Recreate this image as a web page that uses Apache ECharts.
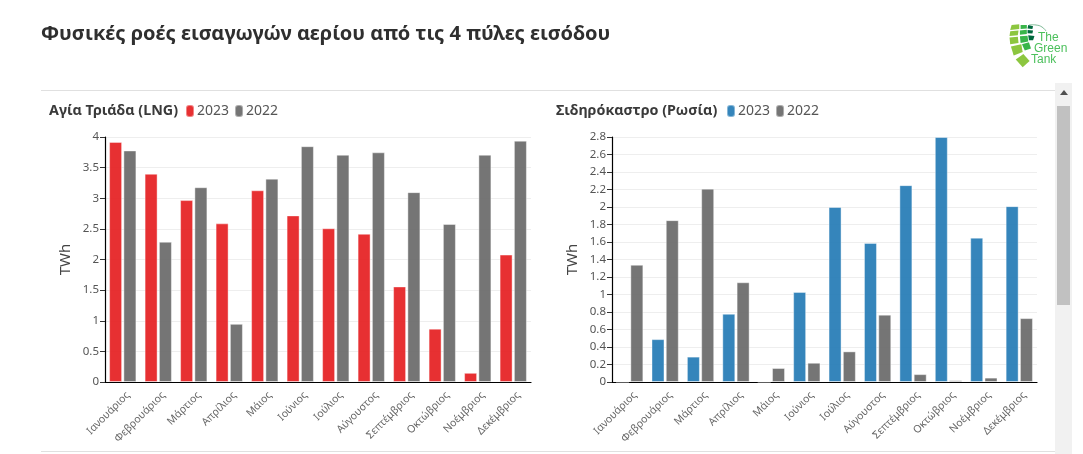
<!DOCTYPE html>
<html><head><meta charset="utf-8">
<style>html,body{margin:0;padding:0;background:#fff;overflow:hidden}#c{width:1083px;height:454px}</style>
<script src="https://cdn.jsdelivr.net/npm/echarts@6/dist/echarts.min.js"></script></head>
<body><div id="c"></div>
<script>
const months = ['Ιανουάριος','Φεβρουάριος','Μάρτιος','Απρίλιος','Μάιος','Ιούνιος','Ιούλιος','Αύγουστος','Σεπτέμβριος','Οκτώβριος','Νοέμβριος','Δεκέμβριος'];
const lng2023 = [3.92,3.40,2.97,2.59,3.13,2.72,2.51,2.42,1.56,0.87,0.15,2.08];
const lng2022 = [3.78,2.29,3.18,0.95,3.32,3.85,3.71,3.75,3.10,2.58,3.71,3.94];
const rus2023 = [0,0.49,0.29,0.78,0,1.03,2.00,1.59,2.25,2.80,1.65,2.01];
const rus2022 = [1.34,1.85,2.21,1.14,0.16,0.22,0.35,0.77,0.09,0.02,0.05,0.73];
const pageTitle = 'Φυσικές ροές εισαγωγών αερίου από τις 4 πύλες εισόδου';
const leftTitle = 'Αγία Τριάδα (LNG)';
const rightTitle = 'Σιδηρόκαστρο (Ρωσία)';
const unit = 'TWh';

const FONT = '"Noto Sans", sans-serif';
const RED = '#e41a1c', BLUE = '#1f78b4', GREY = '#666666';
const PILL = 'path://M3,0H5A3,3 0 0 1 8,3V9A3,3 0 0 1 5,12H3A3,3 0 0 1 0,9V3A3,3 0 0 1 3,0Z';

function xAxis(i){return {type:'category',gridIndex:i,data:months,
  axisLine:{lineStyle:{color:'#000',width:1.2}},
  axisTick:{alignWithLabel:true,length:5,lineStyle:{color:'#333'}},
  axisLabel:{rotate:45,interval:0,fontFamily:FONT,fontSize:10.5,color:'#666',margin:9,verticalAlign:'top',padding:[0,-2,0,0]}};}
function yAxis(i,max,step){return {type:'value',gridIndex:i,min:0,max:max,interval:step,
  name:unit,nameLocation:'middle',nameGap:32,nameTextStyle:{fontFamily:FONT,fontSize:15,color:'#444'},
  axisLine:{show:true,lineStyle:{color:'#000',width:1.2}},
  axisTick:{show:true,length:5,lineStyle:{color:'#333'}},
  axisLabel:{fontFamily:FONT,fontSize:11.5,color:'#555',margin:6,formatter:v=>String(+v.toFixed(1))},
  splitLine:{lineStyle:{color:'#eeeeee'}}};}
function bar(name,data,color,i){return {type:'bar',name,data,xAxisIndex:i,yAxisIndex:i,
  barWidth:13,barGap:'10%',animation:false,
  itemStyle:{color:color,opacity:0.9,borderColor:'rgba(255,255,255,0.45)',borderWidth:1}};}
function legend(left,i,color){return {left,top:104,itemWidth:8,itemHeight:12,itemGap:5,
  icon:PILL,selectedMode:false,padding:0,
  data:[{name:'2023',itemStyle:{color}},{name:'2022',itemStyle:{color:GREY}}],
  textStyle:{fontFamily:FONT,fontSize:14,color:'#555',padding:[0,0,0,-2]}};}

const S=1/2.888, lp=a=>{const o=[];for(let k=0;k<a.length;k+=2)o.push([540+a[k]*S,a[k+1]*S]);return o;};
const logoShapes=[
 ['#8cc63f',[1362,72,1384,70,1384,84,1358,87]],['#8cc63f',[1358,90,1382,88,1380,102,1356,104]],
 ['#8cc63f',[1356,108,1380,106,1382,124,1358,128]],['#8cc63f',[1360,134,1390,128,1394,150,1368,160]],
 ['#8cc63f',[1374,172,1396,156,1414,176,1394,194]],
 ['#39b54a',[1388,72,1406,72,1406,82,1388,84]],['#39b54a',[1386,88,1406,86,1406,98,1386,100]],
 ['#39b54a',[1386,105,1408,103,1410,120,1388,124]],['#39b54a',[1392,128,1412,122,1418,140,1400,146]],
 ['#00693e',[1410,72,1424,76,1422,84,1408,82]],['#00693e',[1408,87,1424,88,1422,97,1408,96]],
 ['#00693e',[1410,102,1428,104,1424,116,1412,116]]];
const logoFont='12px "Liberation Sans Narrow","Liberation Sans",sans-serif', logoText='#4cc05c';
const graphic=[
 {type:'rect',shape:{x:41,y:90,width:1014,height:1},style:{fill:'#e0e0e0'},silent:true},
 {type:'rect',shape:{x:41,y:451,width:1014,height:1},style:{fill:'#e0e0e0'},silent:true},
 {type:'rect',shape:{x:1055,y:83,width:17,height:371},style:{fill:'#f1f1f1'},silent:true},
 {type:'rect',shape:{x:1057,y:106,width:13,height:199},style:{fill:'#c1c1c1'},silent:true},
 {type:'polygon',shape:{points:[[1060,95],[1064,90],[1068,95]]},style:{fill:'#505050'},silent:true},
 ...logoShapes.map(s=>({type:'polygon',shape:{points:lp(s[1])},style:{fill:s[0]},silent:true})),
 {type:'polyline',shape:{points:[[1029,25],[1036,25],[1042,27],[1046,31]],smooth:0.5},style:{stroke:'#4a9e6b',lineWidth:0.7,fill:'none'},silent:true},
 {type:'text',x:1038,y:32,style:{text:'The',font:logoFont,fill:logoText},silent:true},
 {type:'text',x:1034,y:43,style:{text:'Green',font:logoFont,fill:logoText},silent:true},
 {type:'text',x:1031,y:54,style:{text:'Tank',font:logoFont,fill:logoText},silent:true}
];

const chart=echarts.init(document.getElementById('c'),null,{renderer:'canvas'});
chart.setOption({
  animation:false,backgroundColor:'#fff',
  title:[
   {text:pageTitle,left:41,top:24,padding:0,textStyle:{fontFamily:FONT,fontSize:20,fontWeight:700,color:'#2f2f2f'}},
   {text:leftTitle,left:49,top:104,padding:0,textStyle:{fontFamily:FONT,fontSize:14.3,fontWeight:700,color:'#3a3a3a'}},
   {text:rightTitle,left:556,top:104,padding:0,textStyle:{fontFamily:FONT,fontSize:14.3,fontWeight:700,color:'#3a3a3a'}}
  ],
  legend:[legend(185,0,RED),legend(726,1,BLUE)],
  grid:[{left:105,top:137,width:426,height:245},{left:612,top:137,width:425,height:245}],
  xAxis:[xAxis(0),xAxis(1)],
  yAxis:[yAxis(0,4,0.5),yAxis(1,2.8,0.2)],
  series:[bar('2023',lng2023,RED,0),bar('2022',lng2022,GREY,0),bar('2023',rus2023,BLUE,1),bar('2022',rus2022,GREY,1)],
  graphic
});
</script></body></html>
